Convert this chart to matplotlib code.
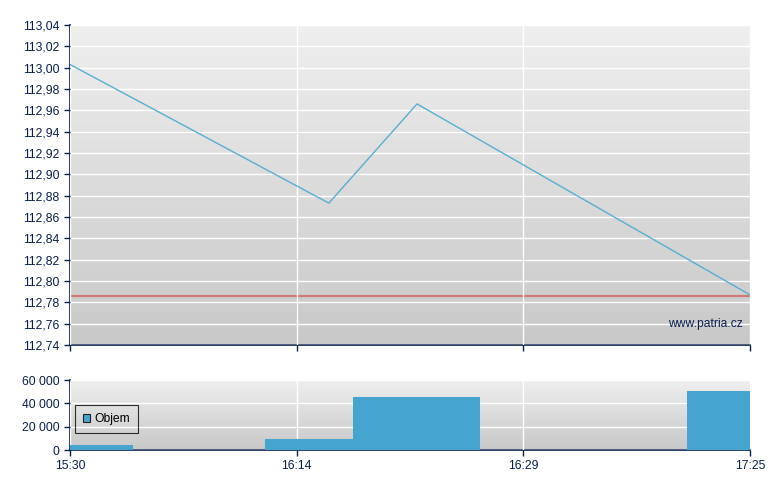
import numpy as np
import matplotlib
matplotlib.use("Agg")
import matplotlib.pyplot as plt
from matplotlib.colors import LinearSegmentedColormap
from matplotlib.patches import Patch
from matplotlib.ticker import FuncFormatter, MultipleLocator

plt.rcParams['font.family'] = ['Liberation Sans', 'DejaVu Sans']

# ---- data ----
tick_labels = ["15:30", "16:14", "16:29", "17:25"]
tick_pos = [0, 1, 2, 3]
price_x = [0.0, 1.142, 1.531, 3.0]
price_y = [113.003, 112.873, 112.966, 112.787]
prev_close = 112.786
vol_left = [0.0, 0.86, 1.248, 2.722]
vol_right = [0.278, 1.248, 1.808, 3.0]
vol_values = [4300, 9400, 45400, 50600]

navy = "#0a1f4d"
line_c = "#5aaed0"
bar_c = "#46a5cf"
red_c = "#d07878"

W, H = 780, 490
fig = plt.figure(figsize=(W / 100, H / 100), dpi=100)
ax1 = fig.add_axes([70 / W, (H - 345) / H, 680 / W, 320 / H])
ax2 = fig.add_axes([70 / W, (H - 450) / H, 680 / W, 70 / H])

cmap = LinearSegmentedColormap.from_list("bg", ["#c8c8c8", "#efefef"])
grad = np.linspace(0, 1, 256).reshape(-1, 1)

for ax in (ax1, ax2):
    ax.imshow(grad, extent=[0, 1, 0, 1], transform=ax.transAxes, aspect='auto',
              cmap=cmap, origin='lower', zorder=0)
    for s in ('top', 'right'):
        ax.spines[s].set_visible(False)
    for s in ('left', 'bottom'):
        ax.spines[s].set_color(navy)
        ax.spines[s].set_linewidth(1.2)
    ax.tick_params(colors=navy, labelcolor=navy, labelsize=8.7, length=4, width=1, direction='out')
    ax.set_xlim(0, 3)
    ax.set_xticks(tick_pos)
    ax.grid(True, color='white', linewidth=1, zorder=1)
    ax.set_axisbelow(False)

# top panel
ax1.plot(price_x, price_y, color=line_c, linewidth=1, zorder=3)
ax1.axhline(prev_close, color=red_c, linewidth=1.6, zorder=2)
ax1.set_ylim(112.74, 113.04)
ax1.yaxis.set_major_locator(MultipleLocator(0.02))
ax1.yaxis.set_major_formatter(FuncFormatter(lambda v, p: f"{v:.2f}".replace(".", ",")))
ax1.set_xticklabels([])
ax1.text(0.99, 0.065, "www.patria.cz", transform=ax1.transAxes, ha='right', va='center',
         color=navy, fontsize=8.7, zorder=4)

# bottom panel
widths = [r - l for l, r in zip(vol_left, vol_right)]
ax2.bar(vol_left, vol_values, width=widths, align='edge', color=bar_c, zorder=3)
ax2.set_ylim(0, 60000)
ax2.set_yticks([0, 20000, 40000, 60000])
ax2.yaxis.set_major_formatter(FuncFormatter(lambda v, p: f"{int(v):,}".replace(",", " ")))
ax2.set_xticklabels(tick_labels)
leg = ax2.legend(handles=[Patch(facecolor=bar_c, edgecolor='#222222', linewidth=0.8, label="Objem")],
                 loc='lower left', bbox_to_anchor=(0.007, 0.24), frameon=True, fancybox=False,
                 fontsize=8.7, handlelength=0.6, handleheight=0.6, handletextpad=0.35,
                 borderpad=0.65, borderaxespad=0)
leg.get_frame().set_edgecolor('black')
leg.get_frame().set_facecolor('none')
leg.get_frame().set_linewidth(0.8)

fig.savefig("out.png", dpi=100)
